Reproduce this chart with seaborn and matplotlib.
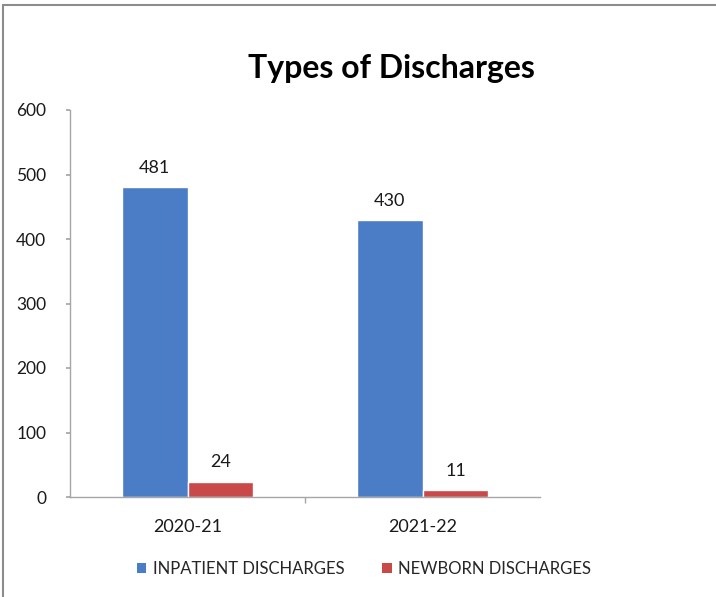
import matplotlib
matplotlib.use("Agg")
import matplotlib.pyplot as plt
import seaborn as sns
import pandas as pd
from matplotlib.lines import Line2D
from matplotlib.patches import Patch

# Chart data
years = ["2020-21", "2021-22"]
inpatient = [481, 430]
newborn = [24, 11]
series_names = ["INPATIENT DISCHARGES", "NEWBORN DISCHARGES"]
y_ticks = [0, 100, 200, 300, 400, 500, 600]

colors = ["#4A7DC6", "#C94848"]

df = pd.DataFrame({
    "Year": years * 2,
    "Series": [series_names[0]] * len(years) + [series_names[1]] * len(years),
    "Value": inpatient + newborn,
})

sns.set_theme(style="white")
plt.rcParams["font.family"] = ["Lato", "DejaVu Sans"]

fig = plt.figure(figsize=(7.16, 5.97), dpi=100)
ax = fig.add_axes([70 / 716, 1 - 497 / 597, 470 / 716, 387 / 597])

sns.barplot(data=df, x="Year", y="Value", hue="Series", palette=colors,
            width=0.56, dodge=True, saturation=1, ax=ax, legend=False)

ax.set_xlim(-0.5, 1.5)
ax.set_ylim(0, 600)
ax.set_yticks(y_ticks)
ax.set_xlabel("")
ax.set_ylabel("")

for sp in ["top", "right"]:
    ax.spines[sp].set_visible(False)
for sp in ["left", "bottom"]:
    ax.spines[sp].set_color("#A6A6A6")
    ax.spines[sp].set_linewidth(1.0)

ax.tick_params(axis="y", which="both", left=True, length=3, color="#A6A6A6",
               labelsize=12.5, labelcolor="#1A1A1A", pad=14)
ax.tick_params(axis="x", which="both", bottom=False, labelsize=13,
               labelcolor="#1A1A1A", pad=10)
# separator tick between the categories
ax.set_xticks([0.5], minor=True)
ax.tick_params(axis="x", which="minor", bottom=True, length=4, color="#A6A6A6")

for container in ax.containers:
    ax.bar_label(container, labels=[f"{v:.0f}" for v in container.datavalues],
                 padding=8, fontsize=13, color="#1A1A1A")

fig.suptitle("Types of Discharges", x=391 / 716, y=1 - 54 / 597,
             fontsize=23, fontweight="bold", color="#000000")

handles = [Patch(facecolor=c, edgecolor="none") for c in colors]
fig.legend(handles, series_names, loc="center", bbox_to_anchor=(364 / 716, 1 - 569 / 597),
           ncol=2, frameon=False, fontsize=12, handlelength=0.55, handleheight=0.55,
           handletextpad=0.4, columnspacing=2.3)

# frame edges of the chart area
fig.add_artist(Line2D([3 / 716, 3 / 716], [0, 1 - 5 / 597], transform=fig.transFigure,
                      color="#8C8C8C", linewidth=1.5))
fig.add_artist(Line2D([3 / 716, 1], [1 - 5 / 597, 1 - 5 / 597], transform=fig.transFigure,
                      color="#8C8C8C", linewidth=1.5))

fig.savefig("out.png", dpi=100)
